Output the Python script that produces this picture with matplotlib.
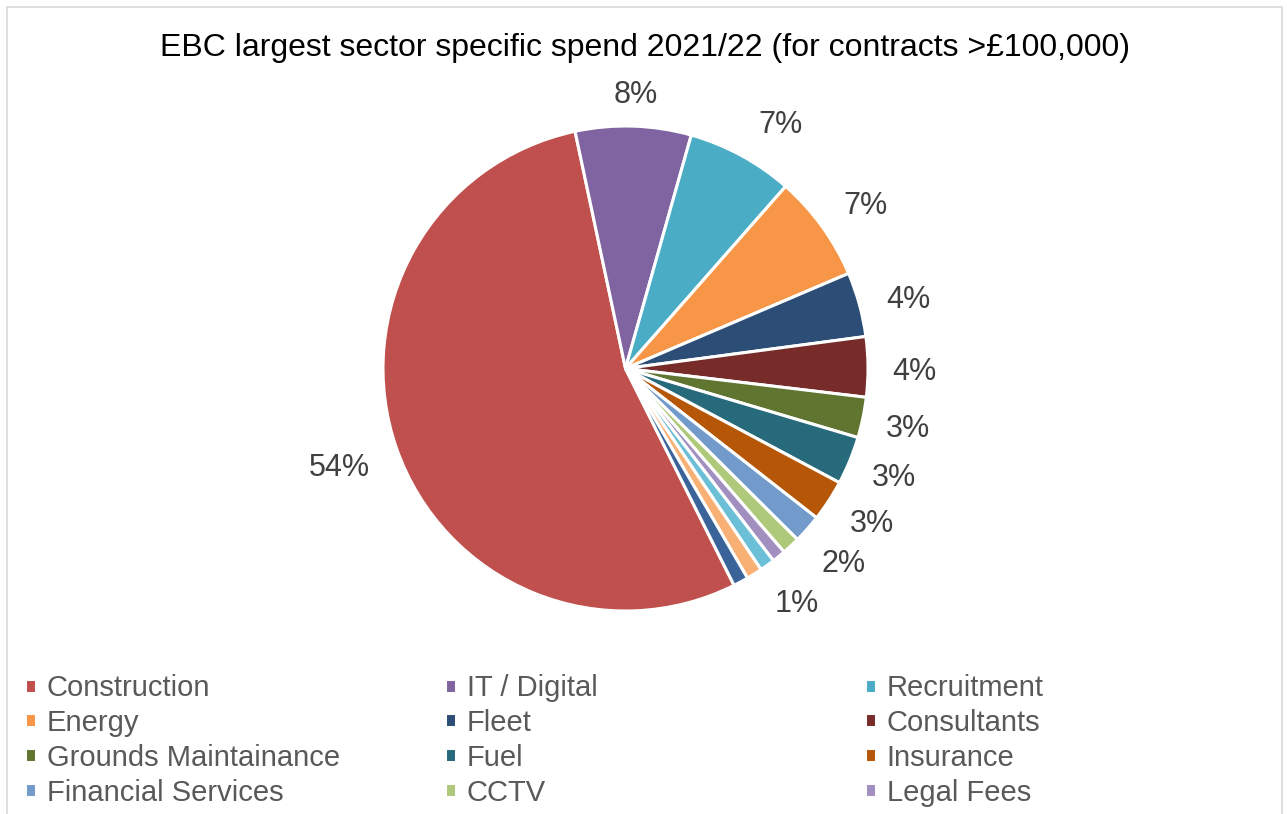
import numpy as np
import matplotlib.pyplot as plt
from matplotlib.patches import Rectangle

plt.rcParams['font.family'] = ['Liberation Sans', 'DejaVu Sans']

# --- donnees : part de la depense par secteur (%) ---
secteurs = ["Construction", "IT / Digital", "Recruitment", "Energy", "Fleet",
            "Consultants", "Grounds Maintainance", "Fuel", "Insurance",
            "Financial Services", "CCTV", "Legal Fees",
            "Autre 1", "Autre 2", "Autre 3"]
parts = [54.0, 7.7, 7.1, 7.1, 4.3, 4.0, 2.7, 3.2, 2.75, 1.9, 1.2, 0.9, 1.0, 1.05, 1.0]
couleurs = ["#C0504D", "#8064A2", "#4BACC6", "#F79646", "#2C4D75",
            "#772C2A", "#5F7530", "#276A7C", "#B65708", "#729ACA",
            "#AFC97A", "#A18FBF", "#6BC0D7", "#F9B074", "#3A6499"]
n_etiquettes = 11        # seules les 11 premieres parts sont etiquetees
n_legende = 12

# --- figure (coordonnees en pixels) ---
W, H = 1287, 814
fig = plt.figure(figsize=(W / 100, H / 100), dpi=100)
ax = fig.add_axes([0, 0, 1, 1])

cx, cy, r = 625.5, H - 368.5, 242.5
wedges, _ = ax.pie(parts, colors=couleurs, startangle=-63.4, counterclock=False,
                   center=(cx, cy), radius=r, frame=True,
                   wedgeprops=dict(edgecolor="white", linewidth=2.2))
ax.set_xlim(0, W)
ax.set_ylim(0, H)
ax.axis("off")

# etiquettes de pourcentage (distance en px, decalage angulaire horaire en degres)
dist = [302, 276, 290, 291, 291.4, 288.5, 288.5, 289.2, 290.7, 291.2, 289.7]
decal = [0.4, 0.3, 3.8, 1.5, 1.3, 0.6, 0.1, -0.4, -1.2, 0.1, 6.7]
for i in range(n_etiquettes):
    w = wedges[i]
    ang = np.deg2rad((w.theta1 + w.theta2) / 2 - decal[i])
    x = cx + dist[i] * np.cos(ang)
    y = cy + dist[i] * np.sin(ang) - 2
    ax.text(x, y, f"{round(parts[i]):.0f}%", ha="center", va="center",
            fontsize=22, color="#404040")

# titre
fig.text(645 / W, 1 - 48 / H,
         "EBC largest sector specific spend 2021/22 (for contracts >£100,000)",
         ha="center", va="center", fontsize=23, color="black")

# legende en trois colonnes
for c, x0 in enumerate([25, 445, 865]):
    idx = [i for i in range(c, n_legende, 3)]
    fig.legend([wedges[i] for i in idx], [secteurs[i] for i in idx],
               loc="upper left", bbox_to_anchor=(x0 / W, 1 - 674 / H),
               frameon=False, fontsize=21, labelcolor="#595959",
               handlelength=0.36, handleheight=0.36, handletextpad=0.38,
               labelspacing=0.236, borderaxespad=0, borderpad=0)

# cadre du graphique (coupe en bas)
fig.patches.append(Rectangle((7 / W, -0.05), (1282 - 7) / W, 1.05 - 7 / H,
                             transform=fig.transFigure, fill=False,
                             edgecolor="#D9D9D9", linewidth=1.2))

fig.savefig("out.png", dpi=100)
